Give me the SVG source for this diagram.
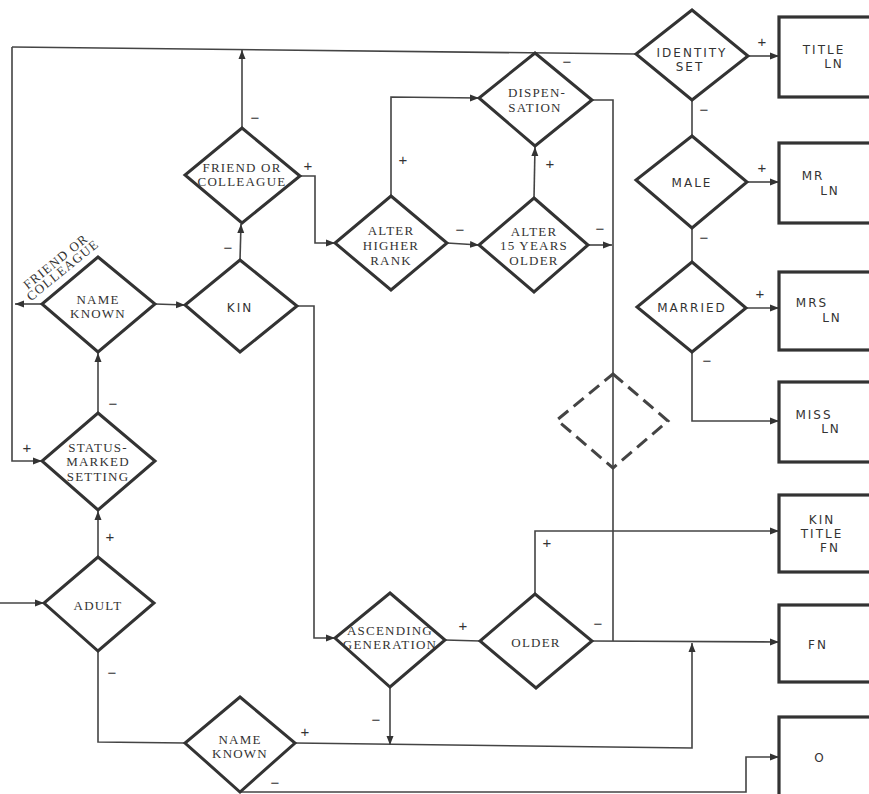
<svg xmlns="http://www.w3.org/2000/svg" width="869" height="794" viewBox="0 0 869 794">
<defs>
<marker id="arr" markerUnits="userSpaceOnUse" markerWidth="10" markerHeight="8" refX="9" refY="4" orient="auto">
<path d="M0,0.5 L9,4 L0,7.5 z" fill="#333"/>
</marker>
</defs>
<style>
.d{fill:#fff;stroke:#333;stroke-width:3;stroke-linejoin:miter}
.dd{fill:none;stroke:#444;stroke-width:3;stroke-dasharray:13 7}
.b{fill:#fff;stroke:#333;stroke-width:3.2}
.c{fill:none;stroke:#444;stroke-width:1.6}
.ca{fill:none;stroke:#444;stroke-width:1.6;marker-end:url(#arr)}
.t{font-family:"Liberation Serif","Times New Roman",serif;font-size:13px;fill:#333;text-anchor:middle;letter-spacing:1.2px}
.h{font-family:"DejaVu Sans","Liberation Sans",sans-serif;font-size:12px;fill:#333;text-anchor:middle;letter-spacing:2px}
</style>
<rect width="869" height="794" fill="#fff"/>
<g id="connectors">
<path class="c" d="M12,47 L636,54"/>
<path class="ca" d="M12,47 L12,461 L42,461"/>
<path class="ca" d="M42,304 L15,304"/>
<path class="ca" d="M242,128 L242,50"/>
<path class="ca" d="M240,260 L241,224"/>
<path class="ca" d="M300,176 L315,176 L315,243 L335,243"/>
<path class="ca" d="M391,196 L391,97 L479,98"/>
<path class="ca" d="M447,243 L479,245"/>
<path class="ca" d="M534,198 L535,147"/>
<path class="c" d="M592,100 L613,100 L613,641"/>
<path class="ca" d="M588,245 L612,245"/>
<path class="ca" d="M748,56 L779,56"/>
<path class="c" d="M692,100 L692,136"/>
<path class="ca" d="M747,182 L779,182"/>
<path class="c" d="M692,228 L692,262"/>
<path class="ca" d="M746,308 L779,308"/>
<path class="ca" d="M692,352 L692,421 L779,421"/>
<path class="ca" d="M297,306 L314,306 L314,638 L335,638"/>
<path class="c" d="M445,640 L480,641"/>
<path class="ca" d="M535,594 L535,531 L779,531"/>
<path class="ca" d="M592,641 L779,642"/>
<path class="ca" d="M390,687 L390,745"/>
<path class="ca" d="M295,743 L692,748 L692,643"/>
<path class="c" d="M98,651 L98,742 L185,743"/>
<path class="ca" d="M98,557 L98,511"/>
<path class="ca" d="M98,413 L98,353"/>
<path class="ca" d="M155,304 L185,305"/>
<path class="ca" d="M0,603 L44,603"/>
<path class="ca" d="M240,792 L746,792 L746,757 L779,757"/>
</g>
<g id="labels" font-family="'Liberation Sans',Arial,sans-serif" font-size="15" fill="#333" text-anchor="middle">
<text x="255" y="123">−</text>
<text x="308" y="171">+</text>
<text x="228" y="253">−</text>
<text x="403" y="165">+</text>
<text x="460" y="235">−</text>
<text x="550" y="169">+</text>
<text x="600" y="234">−</text>
<text x="567" y="67">−</text>
<text x="762" y="47">+</text>
<text x="704" y="115">−</text>
<text x="762" y="173">+</text>
<text x="704" y="243">−</text>
<text x="760" y="299">+</text>
<text x="707" y="366">−</text>
<text x="113" y="409">−</text>
<text x="27" y="453">+</text>
<text x="110" y="542">+</text>
<text x="112" y="678">−</text>
<text x="305" y="737">+</text>
<text x="275" y="788">−</text>
<text x="376" y="725">−</text>
<text x="463" y="631">+</text>
<text x="547" y="548">+</text>
<text x="598" y="629">−</text>
</g>
<g id="friend1">
<polygon class="d" points="242,128 300,176 242,223 185,175"/>
<text class="t" x="242" y="172" font-size="12">FRIEND OR</text>
<text class="t" x="242" y="186" font-size="12">COLLEAGUE</text>
</g>
<g id="namek1">
<polygon class="d" points="98,257 155,304 98,352 42,304"/>
<text class="t" x="98" y="304" letter-spacing="2">NAME</text>
<text class="t" x="98" y="318" letter-spacing="2">KNOWN</text>
<g transform="translate(61,268) rotate(-39)">
<text class="t" x="0" y="-4" font-size="12" letter-spacing="1">FRIEND OR</text>
<text class="t" x="0" y="7" font-size="12" letter-spacing="1">COLLEAGUE</text>
</g>
</g>
<g id="kin">
<polygon class="d" points="240,260 297,306 240,352 185,305"/>
<text class="h" x="240" y="312" font-size="14" letter-spacing="1">KIN</text>
</g>
<g id="alterrank">
<polygon class="d" points="391,196 447,243 391,290 335,243"/>
<text class="t" x="391" y="235" font-size="14">ALTER</text>
<text class="t" x="391" y="250" font-size="14">HIGHER</text>
<text class="t" x="391" y="265" font-size="14">RANK</text>
</g>
<g id="alter15">
<polygon class="d" points="534,198 588,245 534,292 479,245"/>
<text class="t" x="534" y="236" font-size="14">ALTER</text>
<text class="t" x="534" y="250" font-size="14">15 YEARS</text>
<text class="t" x="534" y="265" font-size="14">OLDER</text>
</g>
<g id="dispensation">
<polygon class="d" points="535,53 592,100 535,146 479,98"/>
<text class="t" x="537" y="97" font-size="13">DISPEN-</text>
<text class="t" x="535" y="112" font-size="13">SATION</text>
</g>
<g id="identity">
<polygon class="d" points="692,10 748,56 692,100 636,54"/>
<text class="h" x="692" y="57">IDENTITY</text>
<text class="h" x="690" y="71">SET</text>
</g>
<g id="male">
<polygon class="d" points="692,136 747,182 692,228 636,180"/>
<text class="h" x="692" y="187" font-size="14" letter-spacing="1.5">MALE</text>
</g>
<g id="married">
<polygon class="d" points="692,262 746,308 692,352 637,307"/>
<text class="h" x="692" y="312" font-size="12.5">MARRIED</text>
</g>
<g id="dashed">
<polygon class="dd" points="613,374 668,421 613,468 557,420"/>
</g>
<g id="status">
<polygon class="d" points="98,413 155,461 98,510 42,461"/>
<text class="t" x="98" y="452" font-size="14">STATUS-</text>
<text class="t" x="98" y="466" font-size="14">MARKED</text>
<text class="t" x="98" y="481" font-size="14">SETTING</text>
</g>
<g id="adult">
<polygon class="d" points="98,557 154,603 98,651 44,603"/>
<text class="t" x="98" y="610" font-size="13" letter-spacing="1.6">ADULT</text>
</g>
<g id="ascending">
<polygon class="d" points="390,593 445,640 390,687 335,638"/>
<text class="t" x="390" y="634.5" font-size="10.5" letter-spacing="0.9">ASCENDING</text>
<text class="t" x="390" y="648.5" font-size="10.5" letter-spacing="0.6">GENERATION</text>
</g>
<g id="older">
<polygon class="d" points="535,594 592,641 536,688 480,641"/>
<text class="t" x="536" y="647" font-size="14" letter-spacing="1.5">OLDER</text>
</g>
<g id="namek2">
<polygon class="d" points="240,697 295,743 240,792 185,743"/>
<text class="t" x="240" y="744" font-size="12.5" letter-spacing="2">NAME</text>
<text class="t" x="240" y="758" font-size="12.5" letter-spacing="2">KNOWN</text>
</g>
<g id="titleln">
<rect class="b" x="779" y="17" width="100" height="80"/>
<text class="h" x="824" y="54">TITLE</text>
<text class="h" x="834" y="68">LN</text>
</g>
<g id="mrln">
<rect class="b" x="779" y="143" width="100" height="80"/>
<text class="h" x="813" y="180">MR</text>
<text class="h" x="830" y="195">LN</text>
</g>
<g id="mrsln">
<rect class="b" x="779" y="272" width="100" height="78"/>
<text class="h" x="812" y="307">MRS</text>
<text class="h" x="832" y="322">LN</text>
</g>
<g id="missln">
<rect class="b" x="779" y="382" width="100" height="80"/>
<text class="h" x="814" y="419">MISS</text>
<text class="h" x="831" y="433">LN</text>
</g>
<g id="kintitlefn">
<rect class="b" x="779" y="495" width="100" height="77"/>
<text class="h" x="822" y="524">KIN</text>
<text class="h" x="822" y="538">TITLE</text>
<text class="h" x="830" y="552">FN</text>
</g>
<g id="fn">
<rect class="b" x="779" y="605" width="100" height="77"/>
<text class="h" x="818" y="649" font-size="14" letter-spacing="1">FN</text>
</g>
<g id="o">
<rect class="b" x="779" y="717" width="100" height="90"/>
<text class="h" x="820" y="762" font-size="14">O</text>
</g>
</svg>
